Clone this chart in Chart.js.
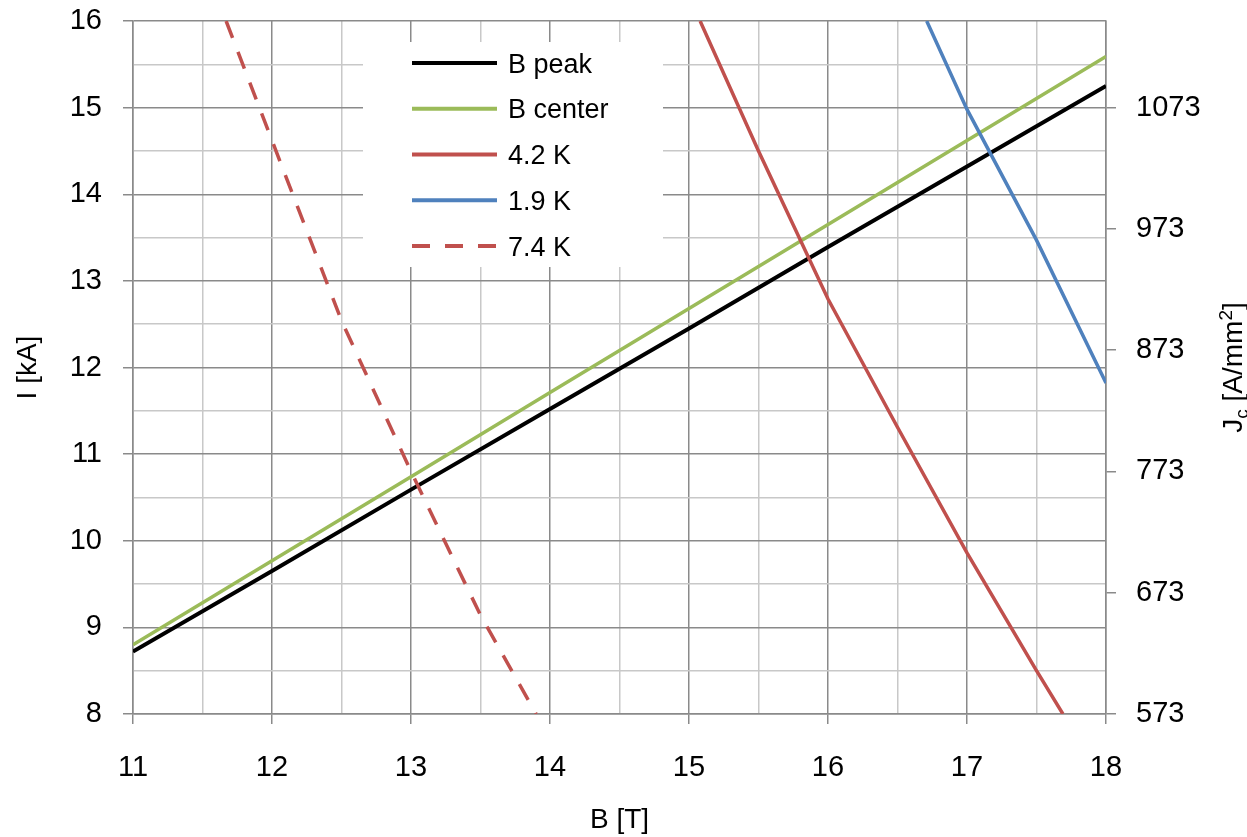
<!DOCTYPE html>
<html><head><meta charset="utf-8">
<script src="https://cdn.jsdelivr.net/npm/chart.js@4/dist/chart.umd.min.js"></script>
<style>html,body{margin:0;padding:0;background:#fff;}#wrap{width:1247px;height:837px;}</style>
</head><body><div id="wrap"><canvas id="c" width="1247" height="837"></canvas></div>
<script>
// ---- data ----
const seriesLabels = ['B peak', 'B center', '4.2 K', '1.9 K', '7.4 K'];
const bPeakB   = [11, 12, 13, 14, 15, 16, 17, 18];
const bPeakI   = [8.72, 9.65, 10.59, 11.52, 12.45, 13.39, 14.32, 15.25];
const bCenterB = [11, 12, 13, 14, 15, 16, 17, 18];
const bCenterI = [8.80, 9.77, 10.74, 11.71, 12.68, 13.65, 14.62, 15.59];
const k42B = [15.08, 15.5, 16, 16.5, 17, 17.5, 17.69];
const k42I = [16, 14.5, 12.79, 11.31, 9.86, 8.5, 8.0];
const k19B = [16.71, 17, 17.5, 18];
const k19I = [16, 14.98, 13.47, 11.82];
const k74B = [11.67, 12, 12.5, 13, 13.5, 13.9];
const k74I = [16, 14.62, 12.54, 10.8, 9.14, 8.0];
const jcTicks = [573, 673, 773, 873, 973, 1073];
const jcAtIMin = 573, jcPerKA = 500 / 7; // right axis: 8 kA -> 573, 15 kA -> 1073
const xMin = 11, xMax = 18, yMin = 8, yMax = 16;

const FONT = "'Liberation Sans', Arial, sans-serif";
const MAJOR = '#8a8a8a', MINOR = '#c8c8c8';
const isInt = v => Math.abs(v - Math.round(v)) < 1e-6;
const pts = (xs, ys) => xs.map((x, i) => ({x: x, y: ys[i]}));

const datasets = [
  {label: seriesLabels[0], data: pts(bPeakB, bPeakI), borderColor: '#000000', borderWidth: 4, order: 3},
  {label: seriesLabels[1], data: pts(bCenterB, bCenterI), borderColor: '#9BBB59', borderWidth: 3.5, order: 4},
  {label: seriesLabels[2], data: pts(k42B, k42I), borderColor: '#C0504D', borderWidth: 3.5, order: 1},
  {label: seriesLabels[3], data: pts(k19B, k19I), borderColor: '#4F81BD', borderWidth: 3.5, order: 2},
  {label: seriesLabels[4], data: pts(k74B, k74I), borderColor: '#C0504D', borderWidth: 3.5, borderDash: [18, 15], order: 0}
].map(d => Object.assign({showLine: true, pointRadius: 0, pointHoverRadius: 0, fill: false, tension: 0}, d));

const boxLegend = {
  id: 'boxLegend',
  afterDatasetsDraw(chart) {
    const ctx = chart.ctx;
    ctx.save();
    ctx.fillStyle = '#ffffff';
    ctx.fillRect(363, 42, 300, 225);
    const fs = 27;
    ctx.font = fs + 'px ' + FONT;
    ctx.textBaseline = 'alphabetic';
    ctx.textAlign = 'left';
    chart.data.datasets.forEach((ds, i) => {
      const y = 63 + i * 45.75;
      ctx.beginPath();
      ctx.strokeStyle = ds.borderColor;
      ctx.lineWidth = 4;
      ctx.lineCap = 'butt';
      ctx.setLineDash(ds.borderDash || []);
      ctx.moveTo(412, y);
      ctx.lineTo(497, y);
      ctx.stroke();
      ctx.setLineDash([]);
      ctx.fillStyle = '#000';
      ctx.fillText(ds.label, 508, y + 0.716 * fs / 2);
    });
    ctx.restore();
  }
};

const rightTitle = {
  id: 'rightTitle',
  afterDraw(chart) {
    const ctx = chart.ctx;
    const a = chart.chartArea;
    const big = 28, small = 19;
    const parts = [
      {t: 'J', s: big, dy: 0},
      {t: 'c', s: small, dy: 6},
      {t: ' [A/mm', s: big, dy: 0},
      {t: '2', s: small, dy: -10},
      {t: ']', s: big, dy: 0}
    ];
    ctx.save();
    let w = 0;
    parts.forEach(p => { ctx.font = p.s + 'px ' + FONT; p.w = ctx.measureText(p.t).width; w += p.w; });
    ctx.translate(1232, (a.top + a.bottom) / 2);
    ctx.rotate(-Math.PI / 2);
    ctx.fillStyle = '#000';
    ctx.textBaseline = 'alphabetic';
    ctx.textAlign = 'left';
    let x = -w / 2;
    parts.forEach(p => {
      ctx.font = p.s + 'px ' + FONT;
      ctx.fillText(p.t, x, 0.716 * big / 2 + p.dy);
      x += p.w;
    });
    ctx.restore();
  }
};

const gridColor = c => (c.tick && isInt(c.tick.value)) ? MAJOR : MINOR;
const tickColor = c => (c.tick && isInt(c.tick.value)) ? MAJOR : 'rgba(0,0,0,0)';
const tickFont = {family: FONT, size: 29};
const titleFont = {family: FONT, size: 28};

new Chart(document.getElementById('c'), {
  type: 'scatter',
  data: {datasets: datasets},
  plugins: [boxLegend, rightTitle],
  options: {
    responsive: false,
    animation: false,
    devicePixelRatio: 1,
    layout: {padding: {top: 21, left: 0, right: 0, bottom: 0}},
    plugins: {legend: {display: false}, tooltip: {enabled: false}},
    scales: {
      x: {
        type: 'linear', position: 'bottom', min: xMin, max: xMax,
        ticks: {stepSize: 0.5, autoSkip: false, maxRotation: 0, padding: 27, color: '#000', font: tickFont,
                callback: v => isInt(v) ? String(Math.round(v)) : ''},
        grid: {color: gridColor, tickColor: tickColor, tickLength: 10, lineWidth: 1.5},
        border: {color: MAJOR, width: 1.5},
        title: {display: true, text: 'B [T]', color: '#000', font: titleFont, padding: {top: 0, bottom: 0}},
        afterFit: s => { s.height = 123; }
      },
      y: {
        type: 'linear', position: 'left', min: yMin, max: yMax,
        ticks: {stepSize: 0.5, autoSkip: false, padding: 21, color: '#000', font: tickFont,
                callback: v => isInt(v) ? String(Math.round(v)) : ''},
        grid: {color: gridColor, tickColor: tickColor, tickLength: 10, lineWidth: 1.5},
        border: {color: MAJOR, width: 1.5},
        title: {display: true, text: 'I [kA]', color: '#000', font: titleFont, padding: {top: 11, bottom: 0}},
        afterFit: s => { s.width = 133; s.paddingTop = 0; s.paddingBottom = 0; }
      },
      y2: {
        type: 'linear', position: 'right', min: jcAtIMin, max: jcAtIMin + (yMax - yMin) * jcPerKA,
        afterBuildTicks: s => { s.ticks = jcTicks.map(v => ({value: v})); },
        ticks: {autoSkip: false, padding: 20, color: '#000', font: tickFont, callback: v => String(v)},
        grid: {drawOnChartArea: false, tickLength: 10, tickColor: MAJOR, color: MAJOR, lineWidth: 1.5},
        border: {color: MAJOR, width: 1.5},
        afterFit: s => { s.width = 141; s.paddingTop = 0; s.paddingBottom = 0; }
      }
    }
  }
});
</script></body></html>
